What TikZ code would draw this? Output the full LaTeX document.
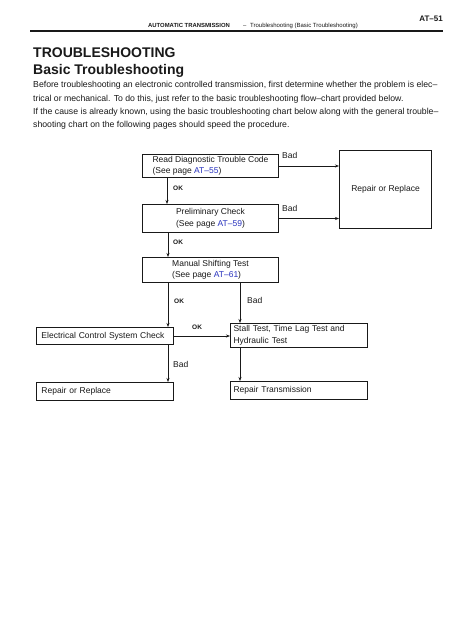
\documentclass[tikz,border=0pt]{standalone}
\usepackage{fontspec}
\setmainfont{Liberation Sans}
\usetikzlibrary{arrows.meta,calc}
\definecolor{linkblue}{RGB}{40,50,190}
\definecolor{ink}{RGB}{25,25,25}
\newcommand{\lnk}[1]{\textcolor{linkblue}{#1}}
\begin{document}
\begin{tikzpicture}[x=1pt,y=-1pt,
  every node/.style={inner sep=0pt, text=ink},
  txt/.style={anchor=base west, font=\fontsize{8.7}{13}\selectfont},
  box/.style={draw=ink, line width=1pt, anchor=north west, align=left, font=\fontsize{8.5}{11.5}\selectfont, inner ysep=0pt},
  arr/.style={draw=ink, line width=0.6pt, -{Stealth[length=4pt,width=3pt]}},
  oklab/.style={anchor=base west, font=\bfseries\fontsize{6.5}{8}\selectfont},
  badlab/.style={anchor=base west, font=\fontsize{8.5}{10}\selectfont},
]
\fill[white] (0,0) rectangle (474,632);
\useasboundingbox (0,0) rectangle (474,632);

% header
\node[anchor=base east, font=\bfseries\fontsize{8}{9}\selectfont] (pg) at (443,21) {AT–51};
\node[anchor=base west, font=\bfseries\fontsize{5.9}{7}\selectfont] (hd1) at (148,27.5) {AUTOMATIC TRANSMISSION};
\node[anchor=base west, font=\fontsize{5.9}{7}\selectfont] (hd2) at (243,27.5) {–};
\node[anchor=base west, font=\fontsize{6}{7}\selectfont] (hd3) at (250,27.5) {Troubleshooting (Basic Troubleshooting)};
\draw[ink, line width=1.1pt] (30,31) -- (443,31);

% titles
\node[anchor=base west, font=\bfseries\fontsize{14}{16}\selectfont] (t1) at (33,57) {TROUBLESHOOTING};
\node[anchor=base west, font=\bfseries\fontsize{14}{16}\selectfont] (t2) at (33,74) {Basic Troubleshooting};

% body
\node[txt] (l1) at (33,87.5) {Before troubleshooting an electronic controlled transmission, first determine whether the problem is elec–};
\node[txt] (l2) at (33,101) {trical or mechanical. To do this, just refer to the basic troubleshooting flow–chart provided below.};
\node[txt] (l3) at (33,114) {If the cause is already known, using the basic troubleshooting chart below along with the general trouble–};
\node[txt] (l4) at (33,127.5) {shooting chart on the following pages should speed the procedure.};

% boxes
\node[box, minimum width=136, minimum height=23] (b1) at (142,154)
  {Read Diagnostic Trouble Code\\(See page \lnk{AT–55})};
\node[box, minimum width=136, minimum height=28] (b2) at (142,204)
  {Preliminary Check\\(See page \lnk{AT–59})};
\node[box, minimum width=136, minimum height=25] (b3) at (142,257)
  {Manual Shifting Test\\(See page \lnk{AT–61})};
\node[box, minimum width=92, minimum height=78, align=center] (rr) at (339,150)
  {Repair or Replace};
\node[box, text width=127, inner xsep=5, minimum height=17] (ec) at (36,327)
  {Electrical Control System Check};
\node[box, text width=131, inner xsep=3, minimum height=24] (st) at (230,323)
  {Stall Test, Time Lag Test and\\Hydraulic Test};
\node[box, text width=127, inner xsep=5, minimum height=18] (rp) at (36,382)
  {Repair or Replace};
\node[box, text width=131, inner xsep=3, minimum height=18] (rt) at (230,381)
  {Repair Transmission};

% connectors
\coordinate (c1) at ($(b1.south west)+(25,0)$);
\coordinate (c2) at ($(b2.south west)+(26,0)$);
\coordinate (c3) at ($(b3.south west)+(26,0)$);
\coordinate (c4) at ($(b3.south west)+(98,0)$);
\coordinate (c5) at ($(ec.south west)+(132,0)$);
\coordinate (c6) at ($(st.south west)+(10,0)$);
\draw[arr] (c1) -- (c1 |- b2.north);
\draw[arr] (c2) -- (c2 |- b3.north);
\draw[arr] (b1.east) -- (b1.east -| rr.west);
\draw[arr] (b2.east) -- (b2.east -| rr.west);
\draw[arr] (c3) -- (c3 |- ec.north);
\draw[arr] (c4) -- (c4 |- st.north);
\draw[arr] (ec.east) -- (ec.east -| st.west);
\draw[arr] (c5) -- (c5 |- rp.north);
\draw[arr] (c6) -- (c6 |- rt.north);

% labels
\node[oklab] (ok1) at (173,190) {OK};
\node[oklab] (ok2) at (173,244) {OK};
\node[oklab] (ok3) at (174,303) {OK};
\node[oklab] (ok4) at (192,329) {OK};
\node[badlab] (bd1) at (282,158) {Bad};
\node[badlab] (bd2) at (282,211) {Bad};
\node[badlab] (bd3) at (247,303) {Bad};
\node[badlab] (bd4) at (173,367) {Bad};
\end{tikzpicture}
\end{document}
